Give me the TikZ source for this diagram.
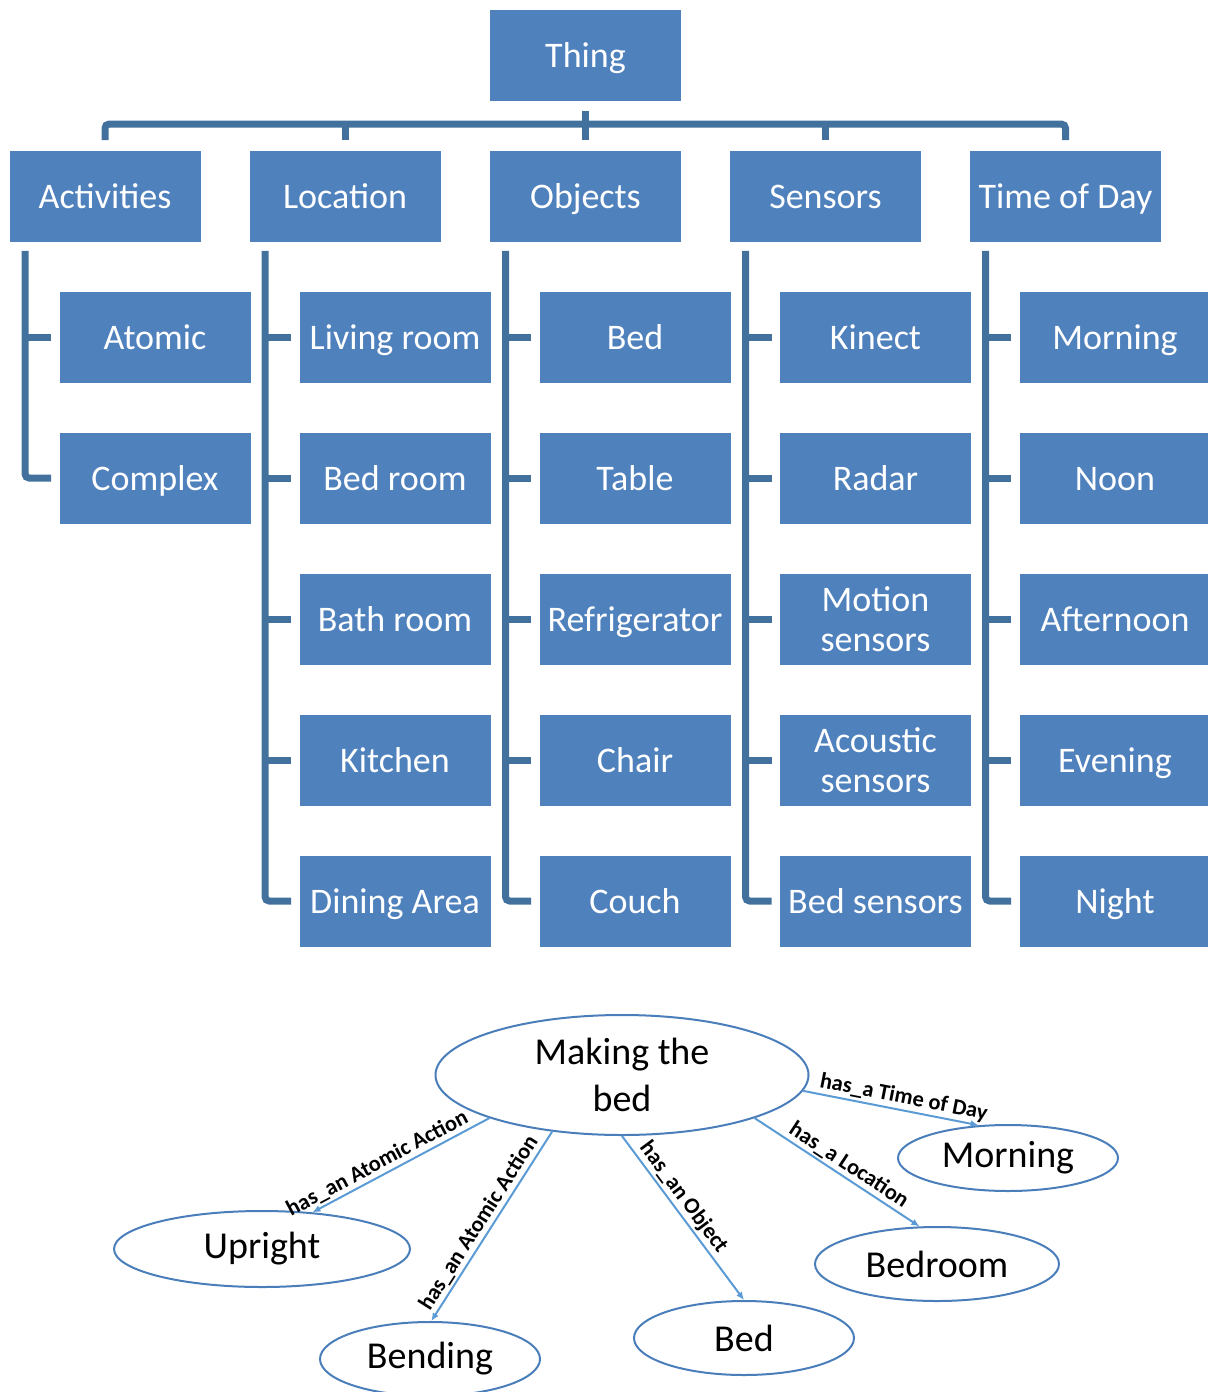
\documentclass[tikz,border=0pt]{standalone}
\usepackage{fontspec}
\setmainfont{Carlito}
\usetikzlibrary{arrows.meta,shapes.geometric}
\definecolor{boxblue}{HTML}{4F81BD}
\definecolor{treeline}{HTML}{41719C}
\definecolor{ovalline}{HTML}{4A7EBB}
\definecolor{linkblue}{HTML}{5B9BD5}
\newcommand{\boxfont}{\fontsize{18}{20}\selectfont}
\newcommand{\ovalfont}{\fontsize{19}{23.5}\selectfont}
\newcommand{\linkfont}{\fontsize{11.2}{13}\selectfont\bfseries}

\begin{document}
\begin{tikzpicture}[x=0.5pt,y=-0.5pt,font=\boxfont,
  cls/.style={fill=boxblue,text=white,minimum width=95.5pt,minimum height=45.5pt,inner sep=0pt,
    align=center,text height=13.5pt,text depth=1.5pt},
  clstwo/.style={fill=boxblue,text=white,minimum width=95.5pt,minimum height=45.5pt,inner sep=0pt,align=center},
  tree/.style={treeline,line width=3.5pt},
  oval/.style={ellipse,draw=ovalline,line width=1pt,fill=white,inner sep=0pt,font=\ovalfont,align=center},
  link/.style={-{Latex[length=4pt,width=3.5pt]},linkblue,line width=1pt},
  lbl/.style={font=\linkfont,text=black,sloped,above,inner sep=1pt}]
\useasboundingbox (0,0) rectangle (1208,1392);

\node[cls] (thing) at (585.5,55.5) {Thing};
\node[cls] (act) at (105,196) {Activities};
\node[cls] (loc) at (345,196) {Location};
\node[cls] (obj) at (585.5,196) {Objects};
\node[cls] (sen) at (825.5,196) {Sensors};
\node[cls] (tod) at (1065.5,196) {Time of Day};

\node[cls] (atomic) at (155,337.5) {Atomic};
\node[cls] (complex) at (155,478) {Complex};

\node[cls] (living) at (395,337.5) {Living room};
\node[cls] (bedrm) at (395,478) {Bed room};
\node[cls] (bathrm) at (395,619) {Bath room};
\node[cls] (kitchen) at (395,760) {Kitchen};
\node[cls] (dining) at (395,901) {Dining Area};

\node[cls] (bedobj) at (635,337.5) {Bed};
\node[cls] (table) at (635,478) {Table};
\node[cls] (fridge) at (635,619) {Refrigerator};
\node[cls] (chair) at (635,760) {Chair};
\node[cls] (couch) at (635,901) {Couch};

\node[cls] (kinect) at (875.5,337.5) {Kinect};
\node[cls] (radar) at (875.5,478) {Radar};
\node[clstwo] (motion) at (875.5,619) {Motion\\sensors};
\node[clstwo] (acoustic) at (875.5,760) {Acoustic\\sensors};
\node[cls] (bedsen) at (875.5,901) {Bed sensors};

\node[cls] (morning) at (1115,337.5) {Morning};
\node[cls] (noon) at (1115,478) {Noon};
\node[cls] (afternoon) at (1115,619) {Afternoon};
\node[cls] (evening) at (1115,760) {Evening};
\node[cls] (night) at (1115,901) {Night};

\draw[tree,rounded corners=2pt] ([yshift=5pt]act.north) -- ++(0,-16) -| ([yshift=5pt]tod.north);
\draw[tree] ([yshift=5pt]loc.north) -- ++(0,-16);
\draw[tree] ([yshift=5pt]sen.north) -- ++(0,-16);
\draw[tree] ([yshift=-5pt]thing.south) -- ([yshift=5pt]obj.north);

\draw[tree,rounded corners=2pt] ([xshift=8pt,yshift=-4.5pt]act.south west) |- ([xshift=-4pt]complex.west);
\draw[tree] ([xshift=-4pt]atomic.west) -- ([xshift=8pt]act.south west |- atomic.west);

\draw[tree,rounded corners=2pt] ([xshift=8pt,yshift=-4.5pt]loc.south west) |- ([xshift=-4pt]dining.west);
\draw[tree] ([xshift=-4pt]living.west) -- ([xshift=8pt]loc.south west |- living.west);
\draw[tree] ([xshift=-4pt]bedrm.west) -- ([xshift=8pt]loc.south west |- bedrm.west);
\draw[tree] ([xshift=-4pt]bathrm.west) -- ([xshift=8pt]loc.south west |- bathrm.west);
\draw[tree] ([xshift=-4pt]kitchen.west) -- ([xshift=8pt]loc.south west |- kitchen.west);

\draw[tree,rounded corners=2pt] ([xshift=8pt,yshift=-4.5pt]obj.south west) |- ([xshift=-4pt]couch.west);
\draw[tree] ([xshift=-4pt]bedobj.west) -- ([xshift=8pt]obj.south west |- bedobj.west);
\draw[tree] ([xshift=-4pt]table.west) -- ([xshift=8pt]obj.south west |- table.west);
\draw[tree] ([xshift=-4pt]fridge.west) -- ([xshift=8pt]obj.south west |- fridge.west);
\draw[tree] ([xshift=-4pt]chair.west) -- ([xshift=8pt]obj.south west |- chair.west);

\draw[tree,rounded corners=2pt] ([xshift=8pt,yshift=-4.5pt]sen.south west) |- ([xshift=-4pt]bedsen.west);
\draw[tree] ([xshift=-4pt]kinect.west) -- ([xshift=8pt]sen.south west |- kinect.west);
\draw[tree] ([xshift=-4pt]radar.west) -- ([xshift=8pt]sen.south west |- radar.west);
\draw[tree] ([xshift=-4pt]motion.west) -- ([xshift=8pt]sen.south west |- motion.west);
\draw[tree] ([xshift=-4pt]acoustic.west) -- ([xshift=8pt]sen.south west |- acoustic.west);

\draw[tree,rounded corners=2pt] ([xshift=8pt,yshift=-4.5pt]tod.south west) |- ([xshift=-4pt]night.west);
\draw[tree] ([xshift=-4pt]morning.west) -- ([xshift=8pt]tod.south west |- morning.west);
\draw[tree] ([xshift=-4pt]noon.west) -- ([xshift=8pt]tod.south west |- noon.west);
\draw[tree] ([xshift=-4pt]afternoon.west) -- ([xshift=8pt]tod.south west |- afternoon.west);
\draw[tree] ([xshift=-4pt]evening.west) -- ([xshift=8pt]tod.south west |- evening.west);

\node[oval,minimum width=186.5pt,minimum height=60pt] (making) at (622,1075) {Making the\\bed};
\node[oval,minimum width=110pt,minimum height=33pt] (morningov) at (1008,1158) {Morning};
\node[oval,minimum width=148pt,minimum height=38pt] (upright) at (262,1249) {Upright};
\node[oval,minimum width=110pt,minimum height=37pt] (bending) at (430,1359) {Bending};
\node[oval,minimum width=110pt,minimum height=37pt] (bedov) at (744,1338) {Bed};
\node[oval,minimum width=122pt,minimum height=37pt] (bedroom) at (937,1264) {Bedroom};

\draw[link] (making.198) -- node[lbl,pos=0.6] {has\_an Atomic Action} (upright.36);
\draw[link] (making.219) -- node[lbl,pos=0.52] {has\_an Atomic Action} (bending.88);
\draw[link] (making.270) -- node[lbl,pos=0.42] {has\_an Object} (bedov.90);
\draw[link] (making.342) -- node[lbl,pos=0.53] {has\_a Location} (bedroom.115);
\draw[link] (making.355) -- node[lbl,pos=0.56] {has\_a Time of Day} (morningov.132);
\end{tikzpicture}
\end{document}
